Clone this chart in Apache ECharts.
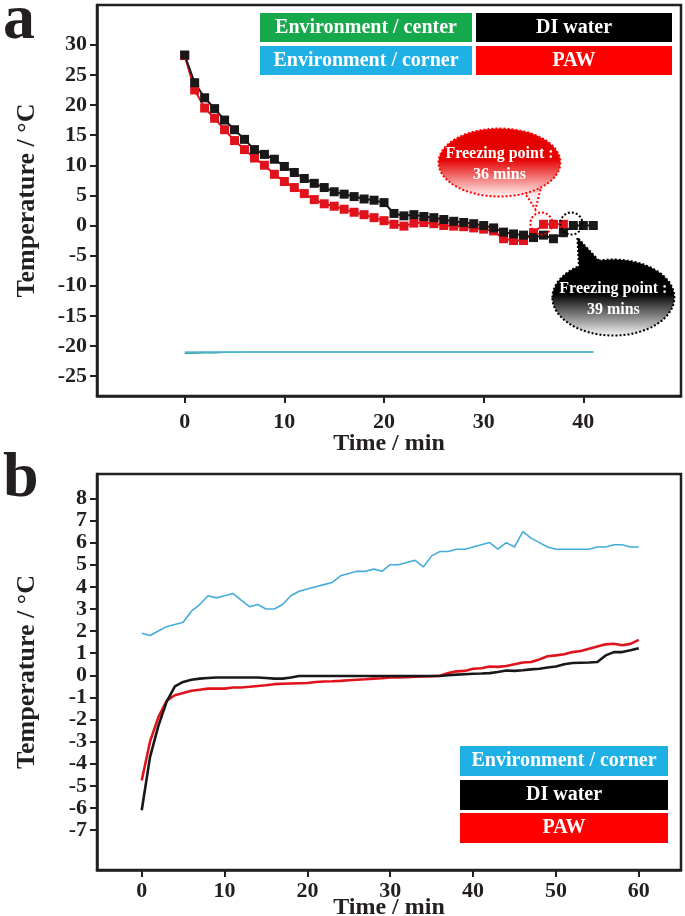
<!DOCTYPE html>
<html>
<head>
<meta charset="utf-8">
<script src="https://cdn.jsdelivr.net/npm/echarts@6/dist/echarts.min.js"></script>
<style>
  html, body { margin: 0; padding: 0; background: #fff; }
  #main { width: 685px; height: 916px; }
</style>
</head>
<body>
<div id="main"></div>
<script>
// ---- panel a : cooling curves (1 point / min) ----
const timeA = [0,1,2,3,4,5,6,7,8,9,10,11,12,13,14,15,16,17,18,19,20,21,22,23,24,25,26,27,28,29,30,31,32,33,34,35,36,37,38,39,40,41];
const diWaterA = [28.3,23.7,21.2,19.4,17.5,15.9,14.3,12.6,11.8,11.0,9.8,8.8,7.8,7.0,6.3,5.6,5.2,4.8,4.4,4.2,3.8,2.0,1.6,1.8,1.5,1.3,1.0,0.7,0.5,0.3,0.0,-0.4,-1.1,-1.4,-1.6,-2.0,-1.6,-2.2,-1.2,0.0,0.0,0.0];
const pawA = [28.2,22.5,19.5,17.8,15.9,14.1,12.6,11.2,10.0,8.5,7.3,6.3,5.3,4.3,3.6,3.2,2.7,2.2,1.8,1.3,0.8,0.2,-0.1,0.4,0.5,0.3,0.0,-0.1,-0.2,-0.4,-0.6,-0.9,-2.2,-2.5,-2.5,-1.2,0.2,0.2,0.2];
const envCenterA = [-21.2,-21.15,-21.1,-21.1,-21.05,-21.05,-21.0,-21.0,-21.0,-21.0,-21.0,-21.0,-21.0,-21.0,-21.0,-21.0,-21.0,-21.0,-21.0,-21.0,-21.0,-21.0,-21.0,-21.0,-21.0,-21.0,-21.0,-21.0,-21.0,-21.0,-21.0,-21.0,-21.0,-21.0,-21.0,-21.0,-21.0,-21.0,-21.0,-21.0,-21.0,-21.0];
const envCornerA = [-21.0,-21.0,-21.0,-21.0,-21.0,-21.0,-21.0,-21.0,-21.0,-21.0,-21.0,-21.0,-21.0,-21.0,-21.0,-21.0,-21.0,-21.0,-21.0,-21.0,-21.0,-21.0,-21.0,-21.0,-21.0,-21.0,-21.0,-21.0,-21.0,-21.0,-21.0,-21.0,-21.0,-21.0,-21.0,-21.0,-21.0,-21.0,-21.0,-21.0,-21.0,-21.0];
const freezeDI = 39, freezePAW = 36;
const xTicksA = [0,10,20,30,40];
const yTicksA = [-25,-20,-15,-10,-5,0,5,10,15,20,25,30];

// ---- panel b : warming curves ----
const timeB = [0,1,2,3,4,5,6,7,8,9,10,11,12,13,14,15,16,17,18,19,20,21,22,23,24,25,26,27,28,29,30,31,32,33,34,35,36,37,38,39,40,41,42,43,44,45,46,47,48,49,50,51,52,53,54,55,56,57,58,59,60];
const envCornerB = [1.9,1.8,2.0,2.2,2.3,2.4,2.9,3.2,3.6,3.5,3.6,3.7,3.4,3.1,3.2,3.0,3.0,3.2,3.6,3.8,3.9,4.0,4.1,4.2,4.5,4.6,4.7,4.7,4.8,4.7,5.0,5.0,5.1,5.2,4.9,5.4,5.6,5.6,5.7,5.7,5.8,5.9,6.0,5.7,6.0,5.8,6.5,6.2,6.0,5.8,5.7,5.7,5.7,5.7,5.7,5.8,5.8,5.9,5.9,5.8,5.8];
const diWaterB = [-6.1,-3.7,-2.3,-1.2,-0.5,-0.3,-0.2,-0.15,-0.12,-0.1,-0.1,-0.1,-0.1,-0.1,-0.1,-0.12,-0.15,-0.15,-0.1,-0.03,-0.03,-0.03,-0.03,-0.03,-0.03,-0.03,-0.03,-0.03,-0.03,-0.03,-0.03,-0.03,-0.03,-0.03,-0.03,-0.03,-0.03,0.0,0.03,0.05,0.07,0.08,0.1,0.15,0.22,0.2,0.23,0.27,0.3,0.35,0.4,0.5,0.56,0.57,0.58,0.6,0.9,1.05,1.05,1.13,1.22];
const pawB = [-4.75,-3.0,-1.9,-1.15,-0.9,-0.8,-0.7,-0.65,-0.6,-0.6,-0.6,-0.55,-0.55,-0.52,-0.48,-0.45,-0.4,-0.38,-0.37,-0.36,-0.35,-0.3,-0.28,-0.27,-0.25,-0.22,-0.2,-0.18,-0.15,-0.13,-0.1,-0.1,-0.08,-0.06,-0.05,-0.04,-0.02,0.1,0.18,0.2,0.3,0.32,0.4,0.38,0.42,0.5,0.58,0.6,0.72,0.86,0.9,0.95,1.05,1.1,1.2,1.3,1.4,1.43,1.36,1.42,1.6];
const xTicksB = [0,10,20,30,40,50,60];
const yTicksB = [-7,-6,-5,-4,-3,-2,-1,0,1,2,3,4,5,6,7,8];

const FONT = 'Liberation Serif';
const INK = '#231f20';
const C_GREEN = '#16a94b', C_BLUE = '#1fb1e6', C_BLACK = '#000000', C_RED = '#ff0000';

function pairs(xs, ys) {
  return ys.map((v, i) => [xs[i], v]);
}

function xAxisCfg(idx, min, max, ticks, margin, gap) {
  return {
    type: 'value', gridIndex: idx, min: min, max: max,
    name: 'Time / min', nameLocation: 'middle', nameGap: gap, nameMoveOverlap: false,
    nameTextStyle: { fontFamily: FONT, fontWeight: 'bold', fontSize: 24, color: INK },
    splitLine: { show: false },
    axisLine: { onZero: false, lineStyle: { color: INK, width: 2.5 } },
    axisTick: { customValues: ticks, length: 7, lineStyle: { color: INK, width: 2 } },
    axisLabel: { customValues: ticks, margin: margin, showMinLabel: true, showMaxLabel: true,
      fontFamily: FONT, fontWeight: 'bold', fontSize: 22, color: INK }
  };
}

function yAxisCfg(idx, min, max, ticks) {
  return {
    type: 'value', gridIndex: idx, min: min, max: max,
    name: 'Temperature / °C', nameLocation: 'middle', nameGap: 57, nameRotate: 90, nameMoveOverlap: false,
    nameTextStyle: { fontFamily: FONT, fontWeight: 'bold', fontSize: 26, color: INK },
    splitLine: { show: false },
    axisLine: { onZero: false, lineStyle: { color: INK, width: 2.5 } },
    axisTick: { customValues: ticks, length: 7, lineStyle: { color: INK, width: 2 } },
    axisLabel: { customValues: ticks, margin: 10, showMinLabel: true, showMaxLabel: true,
      fontFamily: FONT, fontWeight: 'bold', fontSize: 22, color: INK }
  };
}

function legendBox(x, y, w, h, color, label) {
  return {
    type: 'group', left: x, top: y,
    children: [
      { type: 'rect', shape: { x: 0, y: 0, width: w, height: h }, style: { fill: color } },
      { type: 'text', x: w / 2, y: h / 2,
        style: { text: label, fill: '#fff', font: 'bold 20px "Liberation Serif"', align: 'center', verticalAlign: 'middle' } }
    ]
  };
}

const chart = echarts.init(document.getElementById('main'), null, { renderer: 'canvas' });

chart.setOption({
  animation: false,
  backgroundColor: '#fff',
  grid: [
    { left: 97, top: 5, width: 584, height: 391, show: true, borderColor: INK, borderWidth: 2.5, outerBoundsMode: 'none' },
    { left: 97, top: 474, width: 584, height: 396, show: true, borderColor: INK, borderWidth: 2.5, outerBoundsMode: 'none' }
  ],
  xAxis: [
    xAxisCfg(0, -8.8, 49.8, xTicksA, 15, 36),
    xAxisCfg(1, -5.4, 65.1, xTicksB, 10, 26)
  ],
  yAxis: [
    yAxisCfg(0, -28.3, 36.6, yTicksA),
    yAxisCfg(1, -8.8, 9.1, yTicksB)
  ],
  series: [
    { name: 'Environment / center', type: 'line', xAxisIndex: 0, yAxisIndex: 0, data: pairs(timeA, envCenterA),
      showSymbol: false, lineStyle: { color: '#1a9c86', width: 1.6 } },
    { name: 'Environment / corner', type: 'line', xAxisIndex: 0, yAxisIndex: 0, data: pairs(timeA, envCornerA),
      showSymbol: false, lineStyle: { color: '#5bbad8', width: 1.4 } },
    { name: 'PAW', type: 'line', xAxisIndex: 0, yAxisIndex: 0, data: pairs(timeA, pawA),
      symbol: 'rect', symbolSize: 9, itemStyle: { color: '#e0121b' }, lineStyle: { color: '#e0121b', width: 2 } },
    { name: 'DI water', type: 'line', xAxisIndex: 0, yAxisIndex: 0, data: pairs(timeA, diWaterA),
      symbol: 'rect', symbolSize: 9, itemStyle: { color: '#1a1718' }, lineStyle: { color: '#1a1718', width: 2 } },

    { name: 'Environment / corner b', type: 'line', xAxisIndex: 1, yAxisIndex: 1, data: pairs(timeB, envCornerB),
      showSymbol: false, lineStyle: { color: '#45abd8', width: 1.6 } },
    { name: 'PAW b', type: 'line', xAxisIndex: 1, yAxisIndex: 1, data: pairs(timeB, pawB),
      showSymbol: false, lineStyle: { color: '#e0121b', width: 2.6 } },
    { name: 'DI water b', type: 'line', xAxisIndex: 1, yAxisIndex: 1, data: pairs(timeB, diWaterB),
      showSymbol: false, lineStyle: { color: '#1a1718', width: 2.6 } }
  ]
});

// callout bubbles, anchored on the freezing points through the axes
function bubble(p, dx, dy, rx, ry, tail, top, bottom, stroke, lines) {
  const cx = p[0] + dx, cy = p[1] + dy;
  const grad = { type: 'linear', x: 0, y: cy - ry, x2: 0, y2: cy + ry, global: true,
    colorStops: [{ offset: 0, color: top }, { offset: 0.45, color: top }, { offset: 1, color: bottom }] };
  const dotted = { stroke: stroke, lineWidth: 2, lineDash: [2, 2] };
  const pts = tail.map(t => [p[0] + t[0], p[1] + t[1]]);
  return [
    { type: 'circle', shape: { cx: p[0] - 2, cy: p[1] - 2, r: 11 }, style: Object.assign({ fill: 'none' }, dotted), z: 10 },
    { type: 'polygon', shape: { points: pts }, style: Object.assign({ fill: grad }, dotted), z: 10 },
    { type: 'ellipse', shape: { cx: cx, cy: cy, rx: rx, ry: ry }, style: Object.assign({ fill: grad }, dotted), z: 11 },
    { type: 'text', x: cx, y: cy - 9, z: 12,
      style: { text: lines[0], fill: '#fff', font: 'bold 16px "Liberation Serif"', align: 'center', verticalAlign: 'middle' } },
    { type: 'text', x: cx, y: cy + 12, z: 12,
      style: { text: lines[1], fill: '#fff', font: 'bold 16px "Liberation Serif"', align: 'center', verticalAlign: 'middle' } }
  ];
}

const pPAW = chart.convertToPixel({ gridIndex: 0 }, [freezePAW, 0]);
const pDI = chart.convertToPixel({ gridIndex: 0 }, [freezeDI, 0]);

chart.setOption({
  graphic: [
    { type: 'text', left: 3, top: -11, style: { text: 'a', fill: INK, font: 'bold 64px "Liberation Serif"' } },
    { type: 'text', left: 3, top: 447, style: { text: 'b', fill: INK, font: 'bold 64px "Liberation Serif"' } },
    legendBox(260, 13, 212, 29, C_GREEN, 'Environment / center'),
    legendBox(476, 13, 196, 29, C_BLACK, 'DI water'),
    legendBox(260, 46, 212, 29, C_BLUE, 'Environment / corner'),
    legendBox(476, 46, 196, 29, C_RED, 'PAW'),
    legendBox(460, 746, 208, 30, C_BLUE, 'Environment / corner'),
    legendBox(460, 780, 208, 30, C_BLACK, 'DI water'),
    legendBox(460, 813, 208, 30, C_RED, 'PAW')
  ].concat(
    bubble(pPAW, -44, -63, 61, 34, [[-22, -38], [-2, -40], [-8, -16]], '#e60000', '#fff2f2', C_RED,
      ['Freezing point :', '36 mins']),
    bubble(pDI, 40, 72, 61, 38, [[6, 48], [30, 40], [4, 12]], '#000000', '#f4f4f4', C_BLACK,
      ['Freezing point :', '39 mins'])
  )
});
</script>
</body>
</html>
